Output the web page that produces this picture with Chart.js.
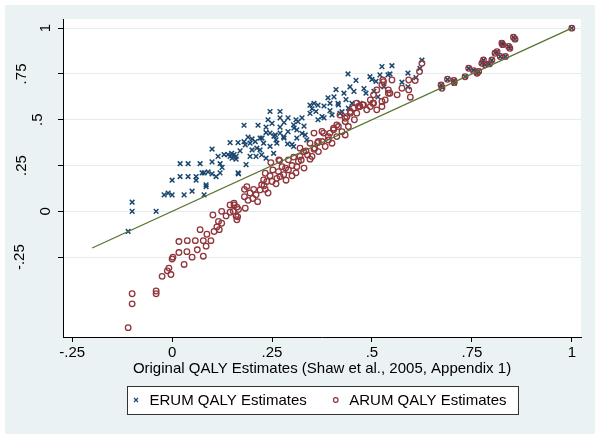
<!DOCTYPE html>
<html>
<head>
<meta charset="utf-8">
<script src="https://cdn.jsdelivr.net/npm/chart.js@4.4.1/dist/chart.umd.min.js"></script>
<style>
  html, body { margin: 0; padding: 0; background: #fff; }
</style>
</head>
<body>
<canvas id="qalyChart" width="600" height="438"></canvas>
<script>
// QALY estimates scatter - ERUM / ARUM vs original values

const xTicks = [-0.25, 0, 0.25, 0.5, 0.75, 1];
const xTickLabels = ['-.25', '0', '.25', '.5', '.75', '1'];
const yTicks = [-0.25, 0, 0.25, 0.5, 0.75, 1];
const yTickLabels = ['-.25', '0', '.25', '.5', '.75', '1'];

const xTitle = 'Original QALY Estimates (Shaw et al., 2005, Appendix 1)';
const seriesNames = ['ERUM QALY Estimates', 'ARUM QALY Estimates'];

// ERUM (blue crosses)
const erumX = [
  -0.11, -0.10, -0.10, -0.04, -0.02, -0.01, 0.00, 0.00, 0.02, 0.02,
  0.04, 0.04, 0.03, 0.05, 0.06, 0.06, 0.07, 0.08, 0.085, 0.08,
  0.09, 0.10, 0.10, 0.10, 0.11, 0.115, 0.12, 0.12, 0.125, 0.13,
  0.14, 0.145, 0.145, 0.155, 0.165, 0.16, 0.165, 0.18, 0.18, 0.19,
  0.20, 0.215, 0.225, 0.235, 0.245, 0.27, 0.27, 0.25, 0.235, 0.255,
  0.27, 0.28, 0.29, 0.29, 0.28, 0.26, 0.305, 0.31, 0.315, 0.325,
  0.33, 0.325, 0.30, 0.345, 0.355, 0.365, 0.345, 0.36, 0.365, 0.38,
  0.38, 0.395, 0.395, 0.41, 0.405, 0.415, 0.42, 0.43, 0.435, 0.44,
  0.445, 0.455, 0.46, 0.47, 0.48, 0.485, 0.495, 0.505, 0.51, 0.515,
  0.21, 0.195, 0.185, 0.16, 0.15, 0.235, 0.22, 0.245, 0.085, 0.075,
  0.525, 0.55, 0.545, 0.52, 0.53, 0.54, 0.59, 0.625, 0.61, 0.575,
  0.59, 0.62, 0.50, 0.245, 0.258, 0.27, 0.279, 0.304, 0.312, 0.333,
  0.375, 0.40, 0.416, 0.425, 0.441, 0.45, 0.183, 0.195, 0.208, 0.22,
  0.229, 0.20, 0.212, 0.224, 0.149, 0.254, 0.262, 0.166, 0.289, 0.304,
  0.312, 0.337, 0.17, 0.24, 0.35, 0.39,
  0.673, 0.676, 0.689, 0.706, 0.705, 0.733, 0.742, 0.754, 0.763, 0.767,
  0.775, 0.779, 0.783, 0.794, 0.80, 0.808, 0.813, 0.821, 0.834, 0.825,
  0.827, 0.842, 0.845, 0.854, 0.858, 1.0
];
const erumY = [
  -0.11, 0.05, 0.00, 0.00, 0.09, 0.10, 0.09, 0.17, 0.19, 0.26,
  0.26, 0.19, 0.09, 0.11, 0.19, 0.17, 0.26, 0.21, 0.135, 0.09,
  0.215, 0.205, 0.34, 0.27, 0.19, 0.30, 0.21, 0.26, 0.24, 0.31,
  0.31, 0.375, 0.30, 0.31, 0.375, 0.285, 0.21, 0.47, 0.38, 0.405,
  0.395, 0.47, 0.40, 0.46, 0.545, 0.545, 0.51, 0.48, 0.43, 0.41,
  0.46, 0.485, 0.51, 0.435, 0.40, 0.39, 0.455, 0.50, 0.49, 0.51,
  0.465, 0.425, 0.365, 0.58, 0.59, 0.58, 0.535, 0.545, 0.50, 0.51,
  0.575, 0.59, 0.55, 0.665, 0.625, 0.59, 0.535, 0.645, 0.61, 0.75,
  0.68, 0.655, 0.715, 0.59, 0.67, 0.645, 0.735, 0.655, 0.71, 0.625,
  0.30, 0.30, 0.255, 0.30, 0.29, 0.29, 0.335, 0.355, 0.145, 0.21,
  0.79, 0.795, 0.75, 0.745, 0.68, 0.745, 0.755, 0.825, 0.73, 0.705,
  0.68, 0.78, 0.72, 0.427, 0.417, 0.427, 0.408, 0.472, 0.445, 0.417,
  0.517, 0.526, 0.581, 0.544, 0.563, 0.59, 0.363, 0.372, 0.381, 0.40,
  0.372, 0.335, 0.345, 0.308, 0.317, 0.317, 0.372, 0.205, 0.368, 0.354,
  0.40, 0.39, 0.33, 0.50, 0.56, 0.62,
  0.69, 0.675, 0.72, 0.70, 0.715, 0.735, 0.78, 0.77, 0.755, 0.765,
  0.81, 0.825, 0.80, 0.805, 0.825, 0.865, 0.87, 0.845, 0.845, 0.918,
  0.91, 0.90, 0.89, 0.95, 0.94, 1.0
];

// ARUM (red open circles)
const arumX = [
  -0.11, -0.10, -0.10, -0.04, -0.04, -0.025, -0.012, -0.008, -0.003, 0.00,
  0.002, 0.017, 0.017, 0.03, 0.037, 0.038, 0.05, 0.058, 0.063, 0.07,
  0.078, 0.078, 0.085, 0.087, 0.097, 0.102, 0.105, 0.112, 0.116, 0.118,
  0.124, 0.124, 0.135, 0.145, 0.145, 0.155, 0.16, 0.166, 0.155, 0.162,
  0.162, 0.153, 0.164, 0.183, 0.181, 0.181, 0.195, 0.204, 0.202, 0.214,
  0.22, 0.224, 0.233, 0.237, 0.229, 0.245, 0.25, 0.252, 0.247, 0.262,
  0.266, 0.269, 0.279, 0.275, 0.284, 0.291, 0.30, 0.291, 0.304, 0.312,
  0.316, 0.32, 0.329, 0.33, 0.339, 0.345, 0.345, 0.355, 0.355, 0.364,
  0.366, 0.375, 0.379, 0.383, 0.391, 0.395, 0.404, 0.40, 0.412, 0.416,
  0.425, 0.433, 0.433, 0.441, 0.437, 0.446, 0.456, 0.462, 0.466, 0.477,
  0.496, 0.504, 0.512, 0.187, 0.233, 0.267, 0.323, 0.366, 0.357, 0.375,
  0.391, 0.404, 0.412, 0.42, 0.433, 0.446, 0.454, 0.462, 0.47, 0.479,
  0.496, 0.504, 0.512, 0.525, 0.527, 0.541, 0.55, 0.545, 0.525, 0.525,
  0.487, 0.502, 0.529, 0.533, 0.541, 0.563, 0.575, 0.592, 0.592, 0.596,
  0.608, 0.619, 0.625, 0.19, 0.21, 0.23, 0.24, 0.26, 0.27, 0.285,
  0.30, 0.31, 0.32, 0.335, 0.35,
  0.673, 0.675, 0.689, 0.706, 0.705, 0.733, 0.742, 0.754, 0.763, 0.767,
  0.775, 0.779, 0.783, 0.794, 0.80, 0.808, 0.813, 0.821, 0.834, 0.825,
  0.827, 0.842, 0.845, 0.854, 0.858, 1.0
];
const arumY = [
  -0.635, -0.505, -0.45, -0.45, -0.435, -0.355, -0.325, -0.31, -0.345, -0.26,
  -0.25, -0.225, -0.165, -0.29, -0.22, -0.16, -0.25, -0.16, -0.21, -0.10,
  -0.245, -0.16, -0.19, -0.125, -0.16, -0.02, -0.11, -0.085, -0.055, -0.10,
  0.00, -0.065, -0.025, 0.035, -0.005, 0.035, -0.025, 0.01, 0.045, 0.023,
  -0.046, 0.00, -0.03, 0.017, 0.12, 0.08, 0.10, 0.12, 0.07, 0.053,
  0.117, 0.145, 0.12, 0.163, 0.172, 0.194, 0.163, 0.226, 0.266, 0.18,
  0.217, 0.277, 0.20, 0.244, 0.236, 0.226, 0.194, 0.281, 0.296, 0.244,
  0.272, 0.345, 0.326, 0.236, 0.308, 0.285, 0.372, 0.427, 0.339, 0.375,
  0.326, 0.381, 0.427, 0.354, 0.39, 0.427, 0.445, 0.372, 0.408, 0.463,
  0.435, 0.49, 0.417, 0.463, 0.517, 0.536, 0.50, 0.536, 0.572, 0.581,
  0.572, 0.59, 0.554, 0.135, 0.208, 0.281, 0.28, 0.381, 0.345, 0.436,
  0.408, 0.454, 0.472, 0.526, 0.508, 0.545, 0.563, 0.59, 0.572, 0.581,
  0.608, 0.636, 0.663, 0.69, 0.717, 0.663, 0.717, 0.645, 0.60, 0.572,
  0.554, 0.59, 0.708, 0.608, 0.645, 0.636, 0.672, 0.663, 0.717, 0.623,
  0.714, 0.763, 0.808, 0.06, 0.09, 0.14, 0.10, 0.15, 0.19, 0.17,
  0.25, 0.21, 0.30, 0.33, 0.30,
  0.69, 0.672, 0.721, 0.703, 0.715, 0.735, 0.781, 0.768, 0.754, 0.763,
  0.808, 0.826, 0.80, 0.805, 0.826, 0.863, 0.872, 0.845, 0.845, 0.918,
  0.91, 0.90, 0.89, 0.95, 0.94, 1.0
];

// 45-degree reference line
const lineX = [-0.2, 1];
const lineY = [-0.2, 1];

const toPoints = (xs, ys) => xs.map((x, i) => ({ x: x, y: ys[i] }));

const FONT = '"Liberation Sans", Arial, sans-serif';
const COLORS = {
  outer: '#EAF2F3',
  grid: '#E4ECEE',
  erum: '#1A476F',
  arum: '#90353B',
  line: '#55752F'
};

Chart.defaults.font.family = FONT;
Chart.defaults.font.size = 15;
Chart.defaults.color = '#000';

// Stata-like frame, rotated y labels and boxed legend
const stataFrame = {
  id: 'stataFrame',
  beforeDraw(chart) {
    const { ctx, chartArea } = chart;
    ctx.save();
    ctx.fillStyle = '#fff';
    ctx.fillRect(0, 0, chart.width, chart.height);
    ctx.fillStyle = COLORS.outer;
    ctx.fillRect(5, 5, chart.width - 10, chart.height - 9);
    ctx.fillStyle = '#fff';
    ctx.fillRect(chartArea.left, chartArea.top, chartArea.right - chartArea.left, chartArea.bottom - chartArea.top);
    ctx.restore();
  },
  afterDraw(chart) {
    const { ctx, chartArea } = chart;
    const ys = chart.scales.y;
    ctx.save();
    ctx.font = '15px ' + FONT;
    ctx.fillStyle = '#000';

    // y tick labels, rotated
    yTicks.forEach((v, i) => {
      const label = yTickLabels[i];
      const w = ctx.measureText(label).width;
      const py = ys.getPixelForValue(v);
      const cx = Math.max(20, 45.5 - 1.9 * (w - 8.3));
      ctx.save();
      ctx.translate(cx, py);
      ctx.rotate(-Math.PI / 2);
      ctx.textAlign = 'center';
      ctx.textBaseline = 'middle';
      ctx.fillText(label, 0, 0);
      ctx.restore();
    });

    // legend
    const w1 = ctx.measureText(seriesNames[0]).width;
    const w2 = ctx.measureText(seriesNames[1]).width;
    const padL = 9, toText = 13.5, gap = 29, padR = 11;
    const boxW = padL + toText + w1 + gap + toText + w2 + padR;
    const boxH = 28;
    const boxL = Math.round((chartArea.left + chartArea.right) / 2 - boxW / 2);
    const boxT = Math.round(chart.scales.x.bottom + 4);
    ctx.fillStyle = '#fff';
    ctx.fillRect(boxL, boxT, boxW, boxH);
    ctx.strokeStyle = '#333';
    ctx.lineWidth = 1;
    ctx.strokeRect(boxL + 0.5, boxT + 0.5, Math.round(boxW), boxH);

    const cy = boxT + boxH / 2;
    const m1 = boxL + padL;
    ctx.strokeStyle = COLORS.erum;
    ctx.lineWidth = 1.2;
    ctx.beginPath();
    ctx.moveTo(m1 - 2, cy - 2); ctx.lineTo(m1 + 2, cy + 2);
    ctx.moveTo(m1 - 2, cy + 2); ctx.lineTo(m1 + 2, cy - 2);
    ctx.stroke();
    ctx.fillStyle = '#000';
    ctx.textAlign = 'left';
    ctx.textBaseline = 'middle';
    ctx.fillText(seriesNames[0], m1 + toText, cy + 1);

    const m2 = m1 + toText + w1 + gap;
    ctx.strokeStyle = COLORS.arum;
    ctx.lineWidth = 1.2;
    ctx.beginPath();
    ctx.arc(m2, cy, 2.3, 0, Math.PI * 2);
    ctx.stroke();
    ctx.fillText(seriesNames[1], m2 + toText, cy + 1);
    ctx.restore();
  }
};

const chart = new Chart(document.getElementById('qalyChart'), {
  type: 'scatter',
  data: {
    datasets: [
      {
        label: seriesNames[0],
        data: toPoints(erumX, erumY),
        pointStyle: 'crossRot',
        pointRadius: 3.3,
        borderWidth: 1.5,
        borderColor: COLORS.erum,
        backgroundColor: COLORS.erum,
        order: 3
      },
      {
        label: seriesNames[1],
        data: toPoints(arumX, arumY),
        pointStyle: 'circle',
        pointRadius: 2.8,
        borderWidth: 1.3,
        borderColor: COLORS.arum,
        backgroundColor: 'rgba(0,0,0,0)',
        order: 2
      },
      {
        label: 'Line',
        data: toPoints(lineX, lineY),
        showLine: true,
        pointRadius: 0,
        borderWidth: 1.3,
        borderColor: COLORS.line,
        backgroundColor: COLORS.line,
        order: 1
      }
    ]
  },
  options: {
    responsive: false,
    animation: false,
    events: [],
    layout: {
      padding: { left: 5, right: 19, top: 19, bottom: 56 }
    },
    plugins: {
      legend: { display: false },
      tooltip: { enabled: false }
    },
    scales: {
      x: {
        type: 'linear',
        min: -0.273,
        max: 1.023,
        afterBuildTicks: (scale) => { scale.ticks = xTicks.map(v => ({ value: v })); },
        afterFit: (scale) => { scale.height = 45; },
        ticks: {
          padding: 2,
          maxRotation: 0,
          callback: (v) => xTickLabels[xTicks.indexOf(v)]
        },
        grid: {
          drawOnChartArea: false,
          tickLength: 5,
          tickColor: '#000',
          tickWidth: 1
        },
        border: { display: true, color: '#000', width: 1 },
        title: {
          display: true,
          text: xTitle,
          padding: { top: 0, bottom: 4 }
        }
      },
      y: {
        type: 'linear',
        min: -0.686,
        max: 1.05,
        afterBuildTicks: (scale) => { scale.ticks = yTicks.map(v => ({ value: v })); },
        afterFit: (scale) => { scale.width = 58; },
        ticks: { display: false },
        grid: {
          color: COLORS.grid,
          lineWidth: 1,
          tickLength: 5,
          tickColor: '#000',
          tickWidth: 1
        },
        border: { display: true, color: '#000', width: 1 }
      }
    }
  },
  plugins: [stataFrame]
});
</script>
</body>
</html>
